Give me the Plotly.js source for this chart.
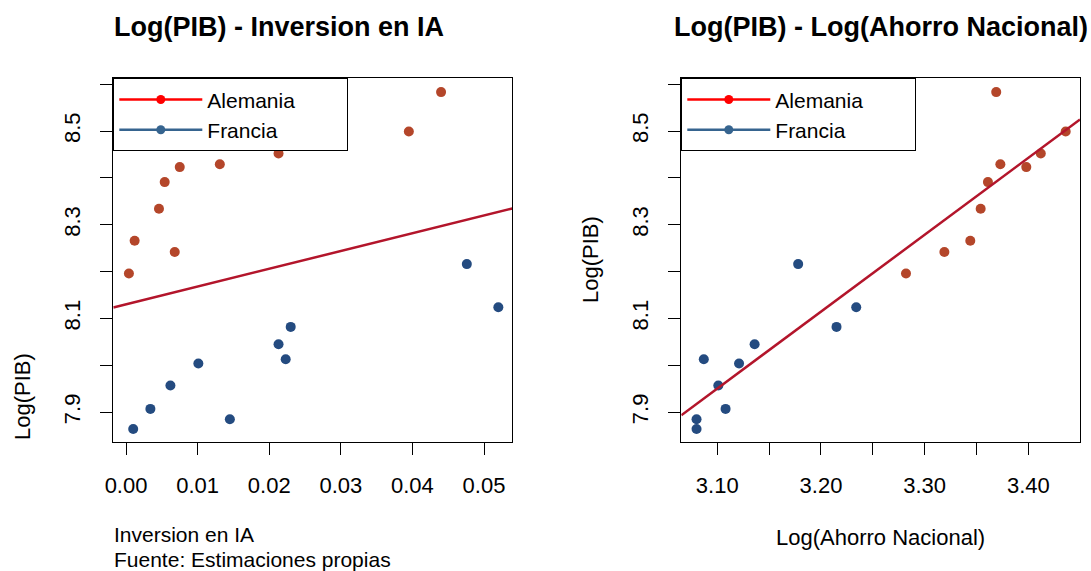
<!DOCTYPE html>
<html>
<head>
<meta charset="utf-8">
<script src="https://cdn.plot.ly/plotly-3.0.1.min.js"></script>
<style>
  html, body { margin: 0; padding: 0; background: #fff; }
  #chart { width: 1091px; height: 571px; }
</style>
</head>
<body>
<div id="chart"></div>
<script>
// ---------------- Data ----------------
const countries = ["Alemania", "Francia"];

// Log(PIB) per observation
const logPIB_Alemania = [8.196, 8.266, 8.334, 8.391, 8.242, 8.423, 8.429, 8.452, 8.499, 8.583];
const logPIB_Francia  = [7.864, 7.907, 7.957, 8.004, 7.885, 8.045, 8.013, 8.082, 8.216, 8.124];

// Inversion en IA per observation
const invIA_Alemania = [0.0004, 0.0012, 0.0046, 0.0054, 0.0068, 0.0075, 0.0131, 0.0213, 0.0395, 0.0440];
const invIA_Francia  = [0.0010, 0.0034, 0.0062, 0.0101, 0.0145, 0.0213, 0.0223, 0.0230, 0.0476, 0.0520];

// Log(Ahorro Nacional) per observation
const logAhorro_Alemania = [3.282, 3.344, 3.354, 3.361, 3.319, 3.398, 3.373, 3.412, 3.436, 3.369];
const logAhorro_Francia  = [3.080, 3.108, 3.101, 3.121, 3.080, 3.136, 3.087, 3.215, 3.178, 3.234];

// Tick labels
const yTickVals  = [7.9, 8.0, 8.1, 8.2, 8.3, 8.4, 8.5, 8.6];
const yTickText  = ["7.9", "", "8.1", "", "8.3", "", "8.5", ""];
const x1TickVals = [0.00, 0.01, 0.02, 0.03, 0.04, 0.05];
const x1TickText = ["0.00", "0.01", "0.02", "0.03", "0.04", "0.05"];
const x2TickVals = [3.10, 3.15, 3.20, 3.25, 3.30, 3.35, 3.40];
const x2TickText = ["3.10", "", "3.20", "", "3.30", "", "3.40"];

// ---------------- Helpers ----------------
function ols(x, y) {
  const n = x.length;
  const mx = x.reduce((a, b) => a + b, 0) / n;
  const my = y.reduce((a, b) => a + b, 0) / n;
  let sxy = 0, sxx = 0;
  for (let i = 0; i < n; i++) { sxy += (x[i] - mx) * (y[i] - my); sxx += (x[i] - mx) ** 2; }
  const b = sxy / sxx;
  return { a: my - b * mx, b: b };
}

const W = 1091, H = 571;
const px = v => v / W;           // pixel x -> paper
const py = v => (H - v) / H;     // pixel y (from top) -> paper

const FONT = "Liberation Sans, Arial, sans-serif";
const colAle = "#B4462A";
const colFra = "#244B80";
const colFit = "#B3152B";
const legRed = "#FF0000";
const legBlue = "#36648F";

const x1Range = [-0.00178, 0.05395];
const x2Range = [3.0653, 3.4498];
const yRange  = [7.837, 8.6125];

const allIA = invIA_Alemania.concat(invIA_Francia);
const allAh = logAhorro_Alemania.concat(logAhorro_Francia);
const allY  = logPIB_Alemania.concat(logPIB_Francia);
const fit1 = ols(allIA, allY);
const fit2 = ols(allAh, allY);

// legend labels padded on the right so the legend box is as wide as in the reference
const pad = "\u00A0".repeat(8);
const legNames = countries.map(c => c + pad);

const traces = [
  // Left panel
  { x: invIA_Alemania, y: logPIB_Alemania, type: "scatter", mode: "markers", name: countries[0],
    marker: { color: colAle, size: 10 }, xaxis: "x", yaxis: "y", showlegend: false },
  { x: invIA_Francia, y: logPIB_Francia, type: "scatter", mode: "markers", name: countries[1],
    marker: { color: colFra, size: 10 }, xaxis: "x", yaxis: "y", showlegend: false },
  { x: x1Range, y: x1Range.map(v => fit1.a + fit1.b * v), type: "scatter", mode: "lines",
    line: { color: colFit, width: 2.5 }, xaxis: "x", yaxis: "y", showlegend: false, hoverinfo: "skip" },
  { x: [null], y: [null], type: "scatter", mode: "lines+markers", name: legNames[0],
    line: { color: legRed, width: 2.5 }, marker: { color: legRed, size: 9 }, xaxis: "x", yaxis: "y", legend: "legend" },
  { x: [null], y: [null], type: "scatter", mode: "lines+markers", name: legNames[1],
    line: { color: legBlue, width: 2.5 }, marker: { color: legBlue, size: 9 }, xaxis: "x", yaxis: "y", legend: "legend" },

  // Right panel
  { x: logAhorro_Alemania, y: logPIB_Alemania, type: "scatter", mode: "markers", name: countries[0],
    marker: { color: colAle, size: 10 }, xaxis: "x2", yaxis: "y2", showlegend: false },
  { x: logAhorro_Francia, y: logPIB_Francia, type: "scatter", mode: "markers", name: countries[1],
    marker: { color: colFra, size: 10 }, xaxis: "x2", yaxis: "y2", showlegend: false },
  { x: x2Range, y: x2Range.map(v => fit2.a + fit2.b * v), type: "scatter", mode: "lines",
    line: { color: colFit, width: 2.5 }, xaxis: "x2", yaxis: "y2", showlegend: false, hoverinfo: "skip" },
  { x: [null], y: [null], type: "scatter", mode: "lines+markers", name: legNames[0],
    line: { color: legRed, width: 2.5 }, marker: { color: legRed, size: 9 }, xaxis: "x2", yaxis: "y2", legend: "legend2" },
  { x: [null], y: [null], type: "scatter", mode: "lines+markers", name: legNames[1],
    line: { color: legBlue, width: 2.5 }, marker: { color: legBlue, size: 9 }, xaxis: "x2", yaxis: "y2", legend: "legend2" }
];

const axisCommon = {
  showgrid: false, zeroline: false, showline: true, mirror: true,
  linecolor: "#000", linewidth: 1,
  ticks: "outside", ticklen: 12, tickwidth: 1, tickcolor: "#000",
  tickfont: { family: FONT, size: 22, color: "#000" },
  tickmode: "array", fixedrange: true
};

const legendCommon = {
  xanchor: "left", yanchor: "top",
  bordercolor: "#000", borderwidth: 1, bgcolor: "#fff",
  font: { family: FONT, size: 21, color: "#000" },
  itemwidth: 83, tracegroupgap: 0
};

const layout = {
  width: W, height: H,
  margin: { l: 0, r: 0, t: 0, b: 0 },
  paper_bgcolor: "#fff", plot_bgcolor: "#fff",
  font: { family: FONT, color: "#000" },
  showlegend: true,
  xaxis: Object.assign({}, axisCommon, {
    domain: [px(113.3), px(512.3)], range: x1Range, anchor: "y",
    tickvals: x1TickVals, ticktext: x1TickText, ticklabelstandoff: 12
  }),
  yaxis: Object.assign({}, axisCommon, {
    domain: [py(441.7), py(78.3)], range: yRange, anchor: "x",
    tickvals: yTickVals, ticktext: yTickText, tickangle: -90, ticklabelstandoff: 12
  }),
  xaxis2: Object.assign({}, axisCommon, {
    domain: [px(681.3), px(1080)], range: x2Range, anchor: "y2",
    tickvals: x2TickVals, ticktext: x2TickText, ticklabelstandoff: 12
  }),
  yaxis2: Object.assign({}, axisCommon, {
    domain: [py(441.7), py(78.3)], range: yRange, anchor: "x2",
    tickvals: yTickVals, ticktext: yTickText, tickangle: -90, ticklabelstandoff: 12
  }),
  legend: Object.assign({}, legendCommon, { x: px(113.3), y: py(78.3) }),
  legend2: Object.assign({}, legendCommon, { x: px(681.3), y: py(78.3) }),
  annotations: [
    { text: "<b>Log(PIB) - Inversion en IA</b>", xref: "paper", yref: "paper",
      x: px(112), y: py(27), xanchor: "left", yanchor: "middle", showarrow: false,
      font: { family: FONT, size: 27, color: "#000" } },
    { text: "<b>Log(PIB) - Log(Ahorro Nacional)</b>", xref: "paper", yref: "paper",
      x: px(880.6), y: py(27), xanchor: "center", yanchor: "middle", showarrow: false,
      font: { family: FONT, size: 27, color: "#000" } },
    { text: "Log(PIB)", xref: "paper", yref: "paper", x: px(22), y: py(397),
      xanchor: "center", yanchor: "middle", textangle: -90, showarrow: false,
      font: { family: FONT, size: 22, color: "#000" } },
    { text: "Log(PIB)", xref: "paper", yref: "paper", x: px(590), y: py(260),
      xanchor: "center", yanchor: "middle", textangle: -90, showarrow: false,
      font: { family: FONT, size: 22, color: "#000" } },
    { text: "Inversion en IA", xref: "paper", yref: "paper", x: px(112), y: py(534),
      xanchor: "left", yanchor: "middle", showarrow: false,
      font: { family: FONT, size: 21, color: "#000" } },
    { text: "Fuente: Estimaciones propias", xref: "paper", yref: "paper", x: px(112), y: py(559),
      xanchor: "left", yanchor: "middle", showarrow: false,
      font: { family: FONT, size: 21, color: "#000" } },
    { text: "Log(Ahorro Nacional)", xref: "paper", yref: "paper", x: px(880.6), y: py(537),
      xanchor: "center", yanchor: "middle", showarrow: false,
      font: { family: FONT, size: 22, color: "#000" } }
  ]
};

Plotly.newPlot("chart", traces, layout, { displayModeBar: false, staticPlot: true });
</script>
</body>
</html>
